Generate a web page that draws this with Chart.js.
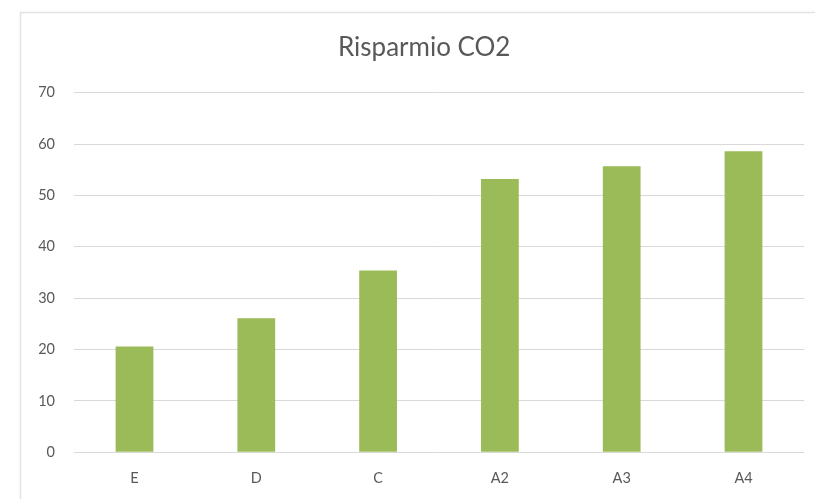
<!DOCTYPE html>
<html>
<head>
<meta charset="utf-8">
<script src="https://cdn.jsdelivr.net/npm/chart.js@4"></script>
<style>
  html, body { margin: 0; padding: 0; background: #ffffff; }
  #wrap { position: relative; width: 815px; height: 499px; }
</style>
</head>
<body>
<div id="wrap"><canvas id="chart" width="815" height="499"></canvas></div>
<script>
// Energy class categories and CO2 savings
const categories = ['E', 'D', 'C', 'A2', 'A3', 'A4'];
const savings = [20.6, 26.1, 35.4, 53.2, 55.7, 58.6];
const yTicks = [0, 10, 20, 30, 40, 50, 60, 70];
const chartTitle = 'Risparmio CO2';

const FONT = 'Lato, "Open Sans", "DejaVu Sans", sans-serif';
const TEXT = '#595959';

// Light frame around the chart; the title is centred on the framed area
const framePlugin = {
  id: 'frame',
  afterLayout(chart) {
    const t = chart.titleBlock;
    if (t) { t.left = 44; t.right = 804.4; t.width = t.right - t.left; }
  },
  beforeDraw(chart) {
    const ctx = chart.ctx;
    ctx.save();
    ctx.strokeStyle = '#e2e2e2';
    ctx.lineWidth = 1.5;
    ctx.strokeRect(20.5, 12.5, 820, 520);
    ctx.restore();
  }
};

new Chart(document.getElementById('chart'), {
  type: 'bar',
  data: {
    labels: categories,
    datasets: [{
      data: savings,
      backgroundColor: '#9bbb59',
      borderWidth: 0,
      categoryPercentage: 1,
      barPercentage: 0.31
    }]
  },
  options: {
    responsive: false,
    animation: false,
    devicePixelRatio: 1,
    layout: { padding: { left: 0, right: 10.6, top: 0, bottom: 0 } },
    plugins: {
      legend: { display: false },
      tooltip: { enabled: false },
      title: {
        display: true,
        text: chartTitle,
        color: TEXT,
        font: { family: FONT, size: 26, weight: 'normal', lineHeight: 1.2 },
        padding: { top: 31.9, bottom: 29.6 }
      }
    },
    scales: {
      x: {
        grid: { display: false, drawTicks: false },
        border: { display: false },
        ticks: { color: TEXT, font: { family: FONT, size: 14.5 }, padding: 17 },
        afterFit(scale) { scale.height = 46.7; }
      },
      y: {
        min: 0,
        max: 70,
        afterBuildTicks(scale) { scale.ticks = yTicks.map(v => ({ value: v })); },
        grid: { color: '#d9d9d9', lineWidth: 1, drawTicks: false },
        border: { display: false },
        ticks: { color: TEXT, font: { family: FONT, size: 14.5 }, padding: 18.6 },
        afterFit(scale) { scale.width = 73.6; }
      }
    }
  },
  plugins: [framePlugin]
});
</script>
</body>
</html>
